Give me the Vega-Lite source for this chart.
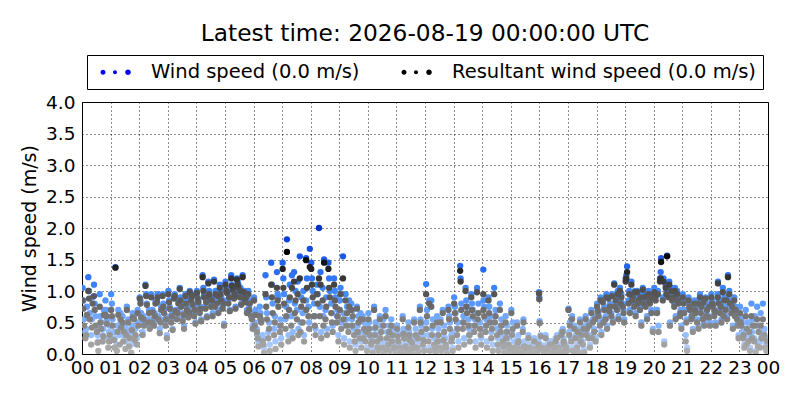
{
  "$schema": "https://vega.github.io/schema/vega-lite/v6.json",
  "width": 686,
  "height": 252,
  "autosize": "none",
  "padding": {"left": 82, "top": 102, "right": 32, "bottom": 46},
  "background": "white",
  "title": {
    "text": "Latest time: 2026-08-19 00:00:00 UTC",
    "font": "DejaVu Sans",
    "fontSize": 23.3,
    "fontWeight": "normal",
    "color": "black",
    "offset": 8
  },
  "config": {
    "view": {"stroke": "black", "strokeWidth": 1},
    "axis": {
      "labelFont": "DejaVu Sans",
      "labelFontSize": 18.5,
      "labelColor": "black",
      "titleFont": "DejaVu Sans",
      "titleFontSize": 19,
      "titleFontWeight": "normal",
      "titleColor": "black",
      "domain": false,
      "ticks": false,
      "grid": true,
      "gridColor": "black",
      "gridDash": [1, 3],
      "gridWidth": 1,
      "gridOpacity": 0.9,
      "labelFlush": false,
      "labelOverlap": false
    },
    "legend": {
      "orient": "none",
      "legendX": 5,
      "legendY": -47,
      "direction": "horizontal",
      "labelFont": "DejaVu Sans",
      "labelFontSize": 19.5,
      "labelColor": "black",
      "labelLimit": 0,
      "labelOffset": 37,
      "columnPadding": 35,
      "padding": 7,
      "strokeColor": "black",
      "fillColor": "white",
      "symbolSize": 400,
      "symbolOpacity": 1,
      "symbolStrokeWidth": 0,
      "symbolType": "M-0.35,0a0.25,0.25 0 1,0 0.5,0a0.25,0.25 0 1,0 -0.5,0ZM0.9,0a0.2,0.2 0 1,0 0.4,0a0.2,0.2 0 1,0 -0.4,0ZM2.12,0a0.28,0.28 0 1,0 0.56,0a0.28,0.28 0 1,0 -0.56,0Z"
    }
  },
  "data": {
    "values": [
      {"h":0.02,"w":1.05,"r":0.85},{"h":0.07,"w":0.55,"r":0.45},{"h":0.12,"w":0.35,"r":0.25},{"h":0.17,"w":0.75,"r":0.62},
      {"h":0.22,"w":1.22,"r":1.0},{"h":0.27,"w":0.65,"r":0.55},{"h":0.32,"w":0.3,"r":0.15},{"h":0.37,"w":0.9,"r":0.8},
      {"h":0.42,"w":1.1,"r":0.92},{"h":0.47,"w":0.6,"r":0.45},{"h":0.52,"w":0.45,"r":0.35},{"h":0.57,"w":0.2,"r":0.05},
      {"h":0.62,"w":0.95,"r":0.75},{"h":0.67,"w":0.5,"r":0.4},{"h":0.72,"w":0.3,"r":0.2},{"h":0.77,"w":0.7,"r":0.62},
      {"h":0.82,"w":0.85,"r":0.62},{"h":0.87,"w":0.55,"r":0.48},{"h":0.92,"w":0.25,"r":0.1},{"h":0.97,"w":0.45,"r":0.3},
      {"h":0.045,"w":0.85,"r":0.72},{"h":0.145,"w":0.4,"r":0.3},{"h":0.245,"w":1.0,"r":0.88},{"h":0.345,"w":0.55,"r":0.42},{"h":0.445,"w":0.8,"r":0.7},
      {"h":0.545,"w":0.3,"r":0.18},{"h":0.645,"w":0.6,"r":0.5},{"h":0.745,"w":0.4,"r":0.28},{"h":0.845,"w":0.7,"r":0.6},{"h":0.945,"w":0.35,"r":0.2},
      {"h":1.02,"w":0.95,"r":0.7},{"h":1.07,"w":0.55,"r":0.45},{"h":1.12,"w":0.35,"r":0.22},{"h":1.17,"w":1.38,"r":1.37},
      {"h":1.22,"w":0.15,"r":0.05},{"h":1.27,"w":0.7,"r":0.62},{"h":1.32,"w":0.3,"r":0.15},{"h":1.37,"w":0.5,"r":0.42},
      {"h":1.42,"w":0.6,"r":0.5},{"h":1.47,"w":0.45,"r":0.35},{"h":1.52,"w":0.2,"r":0.08},{"h":1.57,"w":0.75,"r":0.7},
      {"h":1.62,"w":0.55,"r":0.5},{"h":1.67,"w":0.35,"r":0.25},{"h":1.72,"w":0.15,"r":0.02},{"h":1.77,"w":0.65,"r":0.58},
      {"h":1.82,"w":0.6,"r":0.55},{"h":1.87,"w":0.4,"r":0.3},{"h":1.92,"w":0.25,"r":0.15},{"h":1.97,"w":0.5,"r":0.45},
      {"h":1.045,"w":0.8,"r":0.6},{"h":1.145,"w":0.25,"r":0.1},{"h":1.245,"w":0.45,"r":0.35},{"h":1.345,"w":0.65,"r":0.55},{"h":1.445,"w":0.3,"r":0.2},
      {"h":1.545,"w":0.4,"r":0.3},{"h":1.645,"w":0.25,"r":0.12},{"h":1.745,"w":0.45,"r":0.38},{"h":1.845,"w":0.3,"r":0.22},{"h":1.945,"w":0.7,"r":0.65},
      {"h":2.02,"w":0.9,"r":0.88},{"h":2.07,"w":0.65,"r":0.58},{"h":2.12,"w":0.35,"r":0.3},{"h":2.17,"w":0.5,"r":0.45},
      {"h":2.22,"w":1.1,"r":1.08},{"h":2.27,"w":0.8,"r":0.78},{"h":2.32,"w":0.55,"r":0.5},{"h":2.37,"w":0.45,"r":0.4},
      {"h":2.42,"w":0.95,"r":0.9},{"h":2.47,"w":0.7,"r":0.66},{"h":2.52,"w":0.5,"r":0.45},{"h":2.57,"w":0.85,"r":0.8},
      {"h":2.62,"w":0.85,"r":0.82},{"h":2.67,"w":0.6,"r":0.55},{"h":2.72,"w":0.4,"r":0.33},{"h":2.77,"w":0.75,"r":0.7},
      {"h":2.82,"w":0.95,"r":0.92},{"h":2.87,"w":0.7,"r":0.65},{"h":2.92,"w":0.5,"r":0.45},{"h":2.97,"w":0.3,"r":0.25},
      {"h":2.045,"w":0.85,"r":0.8},{"h":2.145,"w":0.6,"r":0.55},{"h":2.245,"w":0.95,"r":0.92},{"h":2.345,"w":0.7,"r":0.65},{"h":2.445,"w":0.55,"r":0.5},
      {"h":2.545,"w":0.65,"r":0.6},{"h":2.645,"w":0.95,"r":0.9},{"h":2.745,"w":0.55,"r":0.5},{"h":2.845,"w":0.8,"r":0.75},{"h":2.945,"w":0.6,"r":0.55},
      {"h":3.02,"w":1.0,"r":0.95},{"h":3.07,"w":0.75,"r":0.72},{"h":3.12,"w":0.55,"r":0.5},{"h":3.17,"w":0.4,"r":0.38},
      {"h":3.22,"w":0.9,"r":0.88},{"h":3.27,"w":0.7,"r":0.68},{"h":3.32,"w":0.6,"r":0.55},{"h":3.37,"w":0.85,"r":0.8},
      {"h":3.42,"w":1.05,"r":1.03},{"h":3.47,"w":0.8,"r":0.75},{"h":3.52,"w":0.55,"r":0.52},{"h":3.57,"w":0.45,"r":0.4},
      {"h":3.62,"w":0.95,"r":0.92},{"h":3.67,"w":0.75,"r":0.7},{"h":3.72,"w":0.6,"r":0.58},{"h":3.77,"w":1.0,"r":0.98},
      {"h":3.82,"w":0.9,"r":0.85},{"h":3.87,"w":0.8,"r":0.78},{"h":3.92,"w":0.65,"r":0.6},{"h":3.97,"w":0.5,"r":0.48},
      {"h":3.045,"w":0.85,"r":0.82},{"h":3.145,"w":0.65,"r":0.6},{"h":3.245,"w":0.95,"r":0.92},{"h":3.345,"w":0.7,"r":0.65},{"h":3.445,"w":0.9,"r":0.85},
      {"h":3.545,"w":0.65,"r":0.62},{"h":3.645,"w":0.85,"r":0.8},{"h":3.745,"w":0.7,"r":0.66},{"h":3.845,"w":0.95,"r":0.92},{"h":3.945,"w":0.75,"r":0.7},
      {"h":4.02,"w":1.0,"r":0.97},{"h":4.07,"w":0.85,"r":0.82},{"h":4.12,"w":0.7,"r":0.65},{"h":4.17,"w":0.55,"r":0.52},
      {"h":4.22,"w":1.25,"r":1.22},{"h":4.27,"w":0.95,"r":0.9},{"h":4.32,"w":0.75,"r":0.72},{"h":4.37,"w":0.6,"r":0.58},
      {"h":4.42,"w":1.15,"r":1.12},{"h":4.47,"w":0.9,"r":0.88},{"h":4.52,"w":0.8,"r":0.75},{"h":4.57,"w":0.65,"r":0.6},
      {"h":4.62,"w":1.18,"r":1.15},{"h":4.67,"w":1.0,"r":0.95},{"h":4.72,"w":0.85,"r":0.8},{"h":4.77,"w":0.7,"r":0.65},
      {"h":4.82,"w":1.1,"r":1.05},{"h":4.87,"w":0.9,"r":0.85},{"h":4.92,"w":0.75,"r":0.72},{"h":4.97,"w":0.48,"r":0.45},
      {"h":4.045,"w":0.9,"r":0.88},{"h":4.145,"w":0.75,"r":0.72},{"h":4.245,"w":1.05,"r":1.0},{"h":4.345,"w":0.85,"r":0.82},{"h":4.445,"w":1.0,"r":0.95},
      {"h":4.545,"w":0.9,"r":0.85},{"h":4.645,"w":0.8,"r":0.75},{"h":4.745,"w":0.95,"r":0.92},{"h":4.845,"w":1.0,"r":0.95},{"h":4.945,"w":0.85,"r":0.8},
      {"h":5.02,"w":1.15,"r":1.1},{"h":5.07,"w":1.0,"r":0.97},{"h":5.12,"w":0.85,"r":0.8},{"h":5.17,"w":0.7,"r":0.68},
      {"h":5.22,"w":1.25,"r":1.2},{"h":5.27,"w":1.05,"r":1.02},{"h":5.32,"w":0.9,"r":0.88},{"h":5.37,"w":0.75,"r":0.72},
      {"h":5.42,"w":1.2,"r":1.18},{"h":5.47,"w":1.1,"r":1.05},{"h":5.52,"w":0.95,"r":0.9},{"h":5.57,"w":0.8,"r":0.78},
      {"h":5.62,"w":1.25,"r":1.22},{"h":5.67,"w":1.0,"r":0.98},{"h":5.72,"w":0.85,"r":0.82},{"h":5.77,"w":0.7,"r":0.65},
      {"h":5.82,"w":1.0,"r":0.95},{"h":5.87,"w":0.85,"r":0.8},{"h":5.92,"w":0.65,"r":0.6},{"h":5.97,"w":0.45,"r":0.4},
      {"h":5.045,"w":1.05,"r":1.0},{"h":5.145,"w":0.95,"r":0.9},{"h":5.245,"w":1.1,"r":1.08},{"h":5.345,"w":1.0,"r":0.95},{"h":5.445,"w":1.15,"r":1.1},
      {"h":5.545,"w":1.05,"r":1.0},{"h":5.645,"w":0.9,"r":0.88},{"h":5.745,"w":0.95,"r":0.9},{"h":5.845,"w":0.75,"r":0.7},{"h":5.945,"w":0.6,"r":0.55},
      {"h":6.02,"w":0.9,"r":0.85},{"h":6.07,"w":0.7,"r":0.62},{"h":6.12,"w":0.4,"r":0.35},{"h":6.17,"w":0.2,"r":0.12},
      {"h":6.22,"w":0.75,"r":0.6},{"h":6.27,"w":0.55,"r":0.5},{"h":6.32,"w":0.3,"r":0.2},{"h":6.37,"w":0.1,"r":0.02},
      {"h":6.42,"w":1.25,"r":0.95},{"h":6.47,"w":0.65,"r":0.55},{"h":6.52,"w":0.35,"r":0.25},{"h":6.57,"w":0.15,"r":0.05},
      {"h":6.62,"w":1.45,"r":1.1},{"h":6.67,"w":0.8,"r":0.65},{"h":6.72,"w":0.4,"r":0.3},{"h":6.77,"w":0.2,"r":0.08},
      {"h":6.82,"w":1.3,"r":1.05},{"h":6.87,"w":0.9,"r":0.75},{"h":6.92,"w":0.45,"r":0.35},{"h":6.97,"w":0.25,"r":0.15},
      {"h":6.045,"w":0.5,"r":0.45},{"h":6.145,"w":0.3,"r":0.25},{"h":6.245,"w":0.65,"r":0.55},{"h":6.345,"w":0.25,"r":0.15},{"h":6.445,"w":0.9,"r":0.75},
      {"h":6.545,"w":0.5,"r":0.4},{"h":6.645,"w":1.1,"r":0.9},{"h":6.745,"w":0.6,"r":0.5},{"h":6.845,"w":0.95,"r":0.85},{"h":6.945,"w":0.55,"r":0.45},
      {"h":7.02,"w":1.45,"r":1.35},{"h":7.07,"w":0.95,"r":0.8},{"h":7.12,"w":0.55,"r":0.4},{"h":7.17,"w":1.82,"r":1.62},
      {"h":7.22,"w":0.3,"r":0.2},{"h":7.27,"w":1.1,"r":0.9},{"h":7.32,"w":0.6,"r":0.45},{"h":7.37,"w":0.35,"r":0.25},
      {"h":7.42,"w":1.3,"r":1.15},{"h":7.47,"w":1.0,"r":0.85},{"h":7.52,"w":0.7,"r":0.55},{"h":7.57,"w":0.4,"r":0.3},
      {"h":7.62,"w":1.55,"r":1.2},{"h":7.67,"w":0.9,"r":0.75},{"h":7.72,"w":0.65,"r":0.5},{"h":7.77,"w":0.3,"r":0.2},
      {"h":7.84,"w":1.52,"r":1.49},{"h":7.87,"w":1.2,"r":1.05},{"h":7.92,"w":0.75,"r":0.6},{"h":7.97,"w":1.67,"r":1.38},
      {"h":7.045,"w":1.2,"r":1.05},{"h":7.145,"w":0.75,"r":0.6},{"h":7.245,"w":0.85,"r":0.7},{"h":7.345,"w":1.25,"r":1.05},{"h":7.445,"w":0.8,"r":0.65},
      {"h":7.545,"w":1.15,"r":0.95},{"h":7.645,"w":0.5,"r":0.35},{"h":7.745,"w":1.0,"r":0.85},{"h":7.845,"w":0.85,"r":0.7},{"h":7.945,"w":0.5,"r":0.4},
      {"h":8.02,"w":1.45,"r":1.35},{"h":8.07,"w":1.0,"r":0.9},{"h":8.12,"w":0.8,"r":0.6},{"h":8.17,"w":0.4,"r":0.3},
      {"h":8.22,"w":1.1,"r":0.95},{"h":8.29,"w":2.0,"r":1.2},{"h":8.32,"w":0.75,"r":0.6},{"h":8.37,"w":0.35,"r":0.25},
      {"h":8.42,"w":1.05,"r":0.85},{"h":8.47,"w":1.5,"r":1.45},{"h":8.52,"w":0.7,"r":0.55},{"h":8.57,"w":0.4,"r":0.3},
      {"h":8.62,"w":1.45,"r":1.35},{"h":8.67,"w":1.0,"r":0.9},{"h":8.72,"w":0.8,"r":0.65},{"h":8.77,"w":0.45,"r":0.35},
      {"h":8.82,"w":1.2,"r":1.1},{"h":8.87,"w":0.9,"r":0.75},{"h":8.92,"w":0.6,"r":0.5},{"h":8.97,"w":0.3,"r":0.2},
      {"h":8.045,"w":1.2,"r":1.1},{"h":8.145,"w":0.6,"r":0.45},{"h":8.245,"w":0.95,"r":0.8},{"h":8.345,"w":1.3,"r":1.1},{"h":8.445,"w":0.6,"r":0.45},
      {"h":8.545,"w":0.9,"r":0.75},{"h":8.645,"w":1.2,"r":1.05},{"h":8.745,"w":0.65,"r":0.5},{"h":8.845,"w":1.0,"r":0.85},{"h":8.945,"w":0.7,"r":0.6},
      {"h":9.02,"w":0.85,"r":0.7},{"h":9.07,"w":0.5,"r":0.4},{"h":9.13,"w":1.55,"r":1.2},{"h":9.17,"w":0.25,"r":0.15},
      {"h":9.22,"w":0.95,"r":0.85},{"h":9.27,"w":0.75,"r":0.65},{"h":9.32,"w":0.45,"r":0.35},{"h":9.37,"w":0.2,"r":0.1},
      {"h":9.42,"w":0.8,"r":0.7},{"h":9.47,"w":0.7,"r":0.6},{"h":9.52,"w":0.4,"r":0.3},{"h":9.57,"w":0.15,"r":0.05},
      {"h":9.62,"w":0.75,"r":0.72},{"h":9.67,"w":0.6,"r":0.5},{"h":9.72,"w":0.35,"r":0.25},{"h":9.77,"w":0.2,"r":0.1},
      {"h":9.82,"w":0.6,"r":0.55},{"h":9.87,"w":0.5,"r":0.4},{"h":9.92,"w":0.3,"r":0.2},{"h":9.97,"w":0.1,"r":0.05},
      {"h":9.045,"w":1.05,"r":0.95},{"h":9.145,"w":0.65,"r":0.55},{"h":9.245,"w":0.55,"r":0.45},{"h":9.345,"w":0.85,"r":0.75},{"h":9.445,"w":0.55,"r":0.45},
      {"h":9.545,"w":0.3,"r":0.2},{"h":9.645,"w":0.45,"r":0.35},{"h":9.745,"w":0.65,"r":0.55},{"h":9.845,"w":0.35,"r":0.25},{"h":9.945,"w":0.45,"r":0.35},
      {"h":10.02,"w":0.65,"r":0.55},{"h":10.07,"w":0.4,"r":0.3},{"h":10.12,"w":0.25,"r":0.15},{"h":10.17,"w":0.1,"r":0.02},
      {"h":10.22,"w":0.75,"r":0.7},{"h":10.27,"w":0.5,"r":0.42},{"h":10.32,"w":0.3,"r":0.2},{"h":10.37,"w":0.15,"r":0.05},
      {"h":10.42,"w":0.6,"r":0.55},{"h":10.47,"w":0.45,"r":0.35},{"h":10.52,"w":0.2,"r":0.1},{"h":10.57,"w":0.05,"r":0.02},
      {"h":10.62,"w":0.7,"r":0.6},{"h":10.67,"w":0.35,"r":0.25},{"h":10.72,"w":0.25,"r":0.15},{"h":10.77,"w":0.1,"r":0.05},
      {"h":10.82,"w":0.55,"r":0.45},{"h":10.87,"w":0.4,"r":0.3},{"h":10.92,"w":0.2,"r":0.1},{"h":10.97,"w":0.05,"r":0.0},
      {"h":10.045,"w":0.5,"r":0.4},{"h":10.145,"w":0.3,"r":0.2},{"h":10.245,"w":0.4,"r":0.3},{"h":10.345,"w":0.2,"r":0.1},{"h":10.445,"w":0.35,"r":0.25},
      {"h":10.545,"w":0.55,"r":0.45},{"h":10.645,"w":0.15,"r":0.08},{"h":10.745,"w":0.45,"r":0.35},{"h":10.845,"w":0.3,"r":0.2},{"h":10.945,"w":0.15,"r":0.1},
      {"h":11.02,"w":0.45,"r":0.4},{"h":11.07,"w":0.3,"r":0.2},{"h":11.12,"w":0.15,"r":0.1},{"h":11.17,"w":0.05,"r":0.0},
      {"h":11.22,"w":0.6,"r":0.55},{"h":11.27,"w":0.35,"r":0.25},{"h":11.32,"w":0.2,"r":0.12},{"h":11.37,"w":0.08,"r":0.02},
      {"h":11.42,"w":0.5,"r":0.42},{"h":11.47,"w":0.3,"r":0.22},{"h":11.52,"w":0.15,"r":0.08},{"h":11.57,"w":0.05,"r":0.0},
      {"h":11.62,"w":0.55,"r":0.5},{"h":11.67,"w":0.4,"r":0.3},{"h":11.72,"w":0.2,"r":0.1},{"h":11.77,"w":0.1,"r":0.03},
      {"h":11.82,"w":0.75,"r":0.7},{"h":11.87,"w":0.45,"r":0.35},{"h":11.92,"w":0.25,"r":0.15},{"h":11.97,"w":0.1,"r":0.05},
      {"h":11.045,"w":0.35,"r":0.28},{"h":11.145,"w":0.1,"r":0.05},{"h":11.245,"w":0.4,"r":0.32},{"h":11.345,"w":0.15,"r":0.1},{"h":11.445,"w":0.35,"r":0.3},
      {"h":11.545,"w":0.25,"r":0.18},{"h":11.645,"w":0.15,"r":0.1},{"h":11.745,"w":0.3,"r":0.25},{"h":11.845,"w":0.55,"r":0.5},{"h":11.945,"w":0.3,"r":0.22},
      {"h":12.04,"w":1.11,"r":0.95},{"h":12.07,"w":0.7,"r":0.6},{"h":12.12,"w":0.3,"r":0.2},{"h":12.17,"w":0.1,"r":0.05},
      {"h":12.22,"w":0.85,"r":0.75},{"h":12.27,"w":0.55,"r":0.45},{"h":12.32,"w":0.25,"r":0.15},{"h":12.37,"w":0.05,"r":0.02},
      {"h":12.42,"w":0.6,"r":0.5},{"h":12.47,"w":0.4,"r":0.3},{"h":12.52,"w":0.2,"r":0.1},{"h":12.57,"w":0.1,"r":0.05},
      {"h":12.62,"w":0.7,"r":0.65},{"h":12.67,"w":0.45,"r":0.35},{"h":12.72,"w":0.25,"r":0.15},{"h":12.77,"w":0.05,"r":0.0},
      {"h":12.82,"w":0.75,"r":0.7},{"h":12.87,"w":0.5,"r":0.4},{"h":12.92,"w":0.3,"r":0.2},{"h":12.97,"w":0.1,"r":0.05},
      {"h":12.045,"w":0.5,"r":0.4},{"h":12.145,"w":0.85,"r":0.8},{"h":12.245,"w":0.4,"r":0.3},{"h":12.345,"w":0.15,"r":0.1},{"h":12.445,"w":0.3,"r":0.2},
      {"h":12.545,"w":0.55,"r":0.5},{"h":12.645,"w":0.3,"r":0.22},{"h":12.745,"w":0.15,"r":0.1},{"h":12.845,"w":0.6,"r":0.55},{"h":12.945,"w":0.35,"r":0.25},
      {"h":13.02,"w":0.9,"r":0.8},{"h":13.07,"w":0.65,"r":0.55},{"h":13.12,"w":0.4,"r":0.3},{"h":13.17,"w":0.2,"r":0.1},
      {"h":13.23,"w":1.4,"r":1.32},{"h":13.27,"w":0.8,"r":0.7},{"h":13.32,"w":0.5,"r":0.4},{"h":13.37,"w":0.25,"r":0.15},
      {"h":13.42,"w":1.05,"r":1.0},{"h":13.47,"w":0.75,"r":0.65},{"h":13.52,"w":0.55,"r":0.45},{"h":13.57,"w":0.3,"r":0.2},
      {"h":13.62,"w":0.95,"r":0.9},{"h":13.67,"w":0.7,"r":0.6},{"h":13.72,"w":0.45,"r":0.35},{"h":13.77,"w":0.2,"r":0.1},
      {"h":13.82,"w":1.05,"r":0.98},{"h":13.87,"w":0.8,"r":0.65},{"h":13.92,"w":0.5,"r":0.4},{"h":13.97,"w":0.25,"r":0.15},
      {"h":13.045,"w":0.75,"r":0.65},{"h":13.145,"w":0.5,"r":0.4},{"h":13.245,"w":1.2,"r":1.15},{"h":13.345,"w":0.6,"r":0.5},{"h":13.445,"w":0.85,"r":0.75},
      {"h":13.545,"w":0.4,"r":0.3},{"h":13.645,"w":0.8,"r":0.7},{"h":13.745,"w":0.55,"r":0.45},{"h":13.845,"w":0.65,"r":0.55},{"h":13.945,"w":0.4,"r":0.3},
      {"h":14.04,"w":1.34,"r":0.95},{"h":14.07,"w":0.75,"r":0.6},{"h":14.12,"w":0.45,"r":0.35},{"h":14.17,"w":0.2,"r":0.1},
      {"h":14.22,"w":0.9,"r":0.85},{"h":14.27,"w":0.6,"r":0.5},{"h":14.32,"w":0.35,"r":0.25},{"h":14.37,"w":0.15,"r":0.05},
      {"h":14.42,"w":1.05,"r":0.95},{"h":14.47,"w":0.7,"r":0.6},{"h":14.52,"w":0.4,"r":0.3},{"h":14.57,"w":0.1,"r":0.05},
      {"h":14.62,"w":0.8,"r":0.7},{"h":14.67,"w":0.55,"r":0.45},{"h":14.72,"w":0.3,"r":0.2},{"h":14.77,"w":0.1,"r":0.02},
      {"h":14.82,"w":0.6,"r":0.5},{"h":14.87,"w":0.45,"r":0.35},{"h":14.92,"w":0.25,"r":0.15},{"h":14.97,"w":0.05,"r":0.0},
      {"h":14.045,"w":0.85,"r":0.7},{"h":14.145,"w":0.55,"r":0.45},{"h":14.245,"w":0.75,"r":0.65},{"h":14.345,"w":0.5,"r":0.4},{"h":14.445,"w":0.6,"r":0.5},
      {"h":14.545,"w":0.25,"r":0.15},{"h":14.645,"w":0.45,"r":0.35},{"h":14.745,"w":0.2,"r":0.12},{"h":14.845,"w":0.35,"r":0.25},{"h":14.945,"w":0.15,"r":0.08},
      {"h":15.02,"w":0.7,"r":0.65},{"h":15.07,"w":0.5,"r":0.4},{"h":15.12,"w":0.2,"r":0.1},{"h":15.17,"w":0.05,"r":0.02},
      {"h":15.22,"w":0.5,"r":0.45},{"h":15.27,"w":0.3,"r":0.2},{"h":15.32,"w":0.15,"r":0.08},{"h":15.37,"w":0.05,"r":0.0},
      {"h":15.42,"w":0.4,"r":0.35},{"h":15.47,"w":0.2,"r":0.12},{"h":15.52,"w":0.1,"r":0.05},{"h":15.57,"w":0.02,"r":0.0},
      {"h":15.62,"w":0.3,"r":0.25},{"h":15.67,"w":0.15,"r":0.1},{"h":15.72,"w":0.08,"r":0.03},{"h":15.77,"w":0.02,"r":0.0},
      {"h":15.82,"w":0.25,"r":0.2},{"h":15.87,"w":0.12,"r":0.08},{"h":15.92,"w":0.05,"r":0.02},{"h":15.97,"w":0.2,"r":0.15},
      {"h":15.045,"w":0.35,"r":0.3},{"h":15.145,"w":0.1,"r":0.05},{"h":15.245,"w":0.25,"r":0.18},{"h":15.345,"w":0.1,"r":0.05},{"h":15.445,"w":0.55,"r":0.5},
      {"h":15.545,"w":0.15,"r":0.1},{"h":15.645,"w":0.05,"r":0.02},{"h":15.745,"w":0.1,"r":0.06},{"h":15.845,"w":0.05,"r":0.02},{"h":15.945,"w":0.1,"r":0.05},
      {"h":15.99,"w":0.98,"r":0.96},{"h":16.0,"w":0.9,"r":0.87},{"h":16.01,"w":0.52,"r":0.49},{"h":16.07,"w":0.15,"r":0.1},
      {"h":16.22,"w":0.3,"r":0.25},{"h":16.27,"w":0.15,"r":0.1},{"h":16.32,"w":0.05,"r":0.02},{"h":16.37,"w":0.2,"r":0.15},
      {"h":16.42,"w":0.2,"r":0.15},{"h":16.47,"w":0.1,"r":0.05},{"h":16.52,"w":0.02,"r":0.0},{"h":16.57,"w":0.25,"r":0.2},
      {"h":16.62,"w":0.3,"r":0.25},{"h":16.67,"w":0.15,"r":0.1},{"h":16.72,"w":0.05,"r":0.02},{"h":16.77,"w":0.35,"r":0.3},
      {"h":16.82,"w":0.4,"r":0.35},{"h":16.87,"w":0.2,"r":0.15},{"h":16.92,"w":0.08,"r":0.03},{"h":16.97,"w":0.1,"r":0.05},
      {"h":16.045,"w":0.3,"r":0.28},{"h":16.145,"w":0.08,"r":0.04},{"h":16.245,"w":0.12,"r":0.08},{"h":16.345,"w":0.02,"r":0.0},{"h":16.445,"w":0.08,"r":0.04},
      {"h":16.545,"w":0.15,"r":0.1},{"h":16.645,"w":0.05,"r":0.02},{"h":16.745,"w":0.1,"r":0.06},{"h":16.845,"w":0.25,"r":0.2},{"h":16.945,"w":0.15,"r":0.1},
      {"h":17.02,"w":0.72,"r":0.7},{"h":17.07,"w":0.5,"r":0.45},{"h":17.12,"w":0.25,"r":0.2},{"h":17.17,"w":0.1,"r":0.05},
      {"h":17.22,"w":0.45,"r":0.4},{"h":17.27,"w":0.3,"r":0.25},{"h":17.32,"w":0.15,"r":0.1},{"h":17.37,"w":0.05,"r":0.02},
      {"h":17.42,"w":0.55,"r":0.5},{"h":17.47,"w":0.35,"r":0.3},{"h":17.52,"w":0.2,"r":0.15},{"h":17.57,"w":0.08,"r":0.03},
      {"h":17.62,"w":0.6,"r":0.55},{"h":17.67,"w":0.45,"r":0.4},{"h":17.72,"w":0.3,"r":0.25},{"h":17.77,"w":0.15,"r":0.1},
      {"h":17.82,"w":0.7,"r":0.65},{"h":17.87,"w":0.55,"r":0.5},{"h":17.92,"w":0.4,"r":0.35},{"h":17.97,"w":0.25,"r":0.2},
      {"h":17.045,"w":0.35,"r":0.3},{"h":17.145,"w":0.6,"r":0.55},{"h":17.245,"w":0.1,"r":0.05},{"h":17.345,"w":0.4,"r":0.35},{"h":17.445,"w":0.25,"r":0.2},
      {"h":17.545,"w":0.45,"r":0.4},{"h":17.645,"w":0.35,"r":0.3},{"h":17.745,"w":0.5,"r":0.45},{"h":17.845,"w":0.3,"r":0.25},{"h":17.945,"w":0.6,"r":0.55},
      {"h":18.02,"w":0.8,"r":0.75},{"h":18.07,"w":0.65,"r":0.6},{"h":18.12,"w":0.5,"r":0.45},{"h":18.17,"w":0.35,"r":0.3},
      {"h":18.22,"w":0.85,"r":0.82},{"h":18.27,"w":0.75,"r":0.7},{"h":18.32,"w":0.6,"r":0.55},{"h":18.37,"w":0.45,"r":0.4},
      {"h":18.42,"w":0.9,"r":0.88},{"h":18.47,"w":0.8,"r":0.75},{"h":18.52,"w":0.65,"r":0.6},{"h":18.57,"w":0.55,"r":0.5},
      {"h":18.62,"w":1.12,"r":1.1},{"h":18.67,"w":0.9,"r":0.85},{"h":18.72,"w":0.75,"r":0.7},{"h":18.77,"w":0.6,"r":0.55},
      {"h":18.82,"w":1.05,"r":1.0},{"h":18.87,"w":0.95,"r":0.9},{"h":18.92,"w":0.8,"r":0.75},{"h":18.97,"w":0.55,"r":0.5},
      {"h":18.045,"w":0.7,"r":0.68},{"h":18.145,"w":0.9,"r":0.85},{"h":18.245,"w":0.55,"r":0.5},{"h":18.345,"w":0.95,"r":0.9},{"h":18.445,"w":0.7,"r":0.68},
      {"h":18.545,"w":0.95,"r":0.92},{"h":18.645,"w":0.8,"r":0.75},{"h":18.745,"w":1.0,"r":0.95},{"h":18.845,"w":0.85,"r":0.8},{"h":18.945,"w":0.7,"r":0.65},
      {"h":19.02,"w":1.2,"r":1.15},{"h":19.07,"w":1.39,"r":1.3},{"h":19.12,"w":0.85,"r":0.8},{"h":19.17,"w":0.7,"r":0.65},
      {"h":19.22,"w":1.15,"r":1.1},{"h":19.27,"w":0.95,"r":0.9},{"h":19.32,"w":0.8,"r":0.75},{"h":19.37,"w":0.65,"r":0.6},
      {"h":19.42,"w":1.0,"r":0.98},{"h":19.47,"w":0.9,"r":0.85},{"h":19.52,"w":0.75,"r":0.7},{"h":19.57,"w":0.5,"r":0.45},
      {"h":19.62,"w":1.05,"r":1.02},{"h":19.67,"w":0.95,"r":0.9},{"h":19.72,"w":0.8,"r":0.75},{"h":19.77,"w":0.6,"r":0.55},
      {"h":19.82,"w":1.0,"r":0.95},{"h":19.87,"w":0.85,"r":0.8},{"h":19.92,"w":0.7,"r":0.65},{"h":19.97,"w":0.4,"r":0.35},
      {"h":19.045,"w":1.25,"r":1.2},{"h":19.145,"w":1.0,"r":0.95},{"h":19.245,"w":0.9,"r":0.85},{"h":19.345,"w":1.0,"r":0.98},{"h":19.445,"w":0.85,"r":0.8},
      {"h":19.545,"w":0.95,"r":0.9},{"h":19.645,"w":0.85,"r":0.8},{"h":19.745,"w":0.95,"r":0.92},{"h":19.845,"w":0.9,"r":0.85},{"h":19.945,"w":0.95,"r":0.9},
      {"h":20.02,"w":1.05,"r":0.98},{"h":20.07,"w":0.9,"r":0.85},{"h":20.12,"w":0.7,"r":0.65},{"h":20.17,"w":0.45,"r":0.35},
      {"h":20.22,"w":1.2,"r":1.15},{"h":20.26,"w":1.52,"r":1.46},{"h":20.32,"w":0.9,"r":0.85},{"h":20.37,"w":0.2,"r":0.15},
      {"h":20.42,"w":1.1,"r":1.05},{"h":20.47,"w":1.56,"r":1.55},{"h":20.52,"w":0.95,"r":0.9},{"h":20.57,"w":0.5,"r":0.45},
      {"h":20.62,"w":1.05,"r":1.0},{"h":20.67,"w":0.95,"r":0.9},{"h":20.72,"w":0.8,"r":0.75},{"h":20.77,"w":0.6,"r":0.55},
      {"h":20.82,"w":1.0,"r":0.95},{"h":20.87,"w":0.85,"r":0.8},{"h":20.92,"w":0.65,"r":0.6},{"h":20.97,"w":0.45,"r":0.4},
      {"h":20.045,"w":0.95,"r":0.9},{"h":20.145,"w":1.0,"r":0.95},{"h":20.245,"w":1.3,"r":1.2},{"h":20.345,"w":1.2,"r":1.15},{"h":20.445,"w":1.0,"r":0.95},
      {"h":20.545,"w":1.15,"r":1.1},{"h":20.645,"w":0.9,"r":0.85},{"h":20.745,"w":1.05,"r":1.0},{"h":20.845,"w":0.9,"r":0.85},{"h":20.945,"w":0.7,"r":0.65},
      {"h":21.02,"w":0.95,"r":0.9},{"h":21.07,"w":0.7,"r":0.65},{"h":21.12,"w":0.3,"r":0.2},{"h":21.17,"w":0.1,"r":0.05},
      {"h":21.22,"w":0.9,"r":0.85},{"h":21.27,"w":0.75,"r":0.7},{"h":21.32,"w":0.6,"r":0.55},{"h":21.37,"w":0.4,"r":0.35},
      {"h":21.42,"w":0.85,"r":0.8},{"h":21.47,"w":0.7,"r":0.65},{"h":21.52,"w":0.55,"r":0.5},{"h":21.57,"w":0.45,"r":0.4},
      {"h":21.62,"w":0.95,"r":0.9},{"h":21.67,"w":0.8,"r":0.75},{"h":21.72,"w":0.6,"r":0.55},{"h":21.77,"w":0.5,"r":0.45},
      {"h":21.82,"w":0.9,"r":0.88},{"h":21.87,"w":0.75,"r":0.7},{"h":21.92,"w":0.6,"r":0.58},{"h":21.97,"w":0.5,"r":0.45},
      {"h":21.045,"w":0.85,"r":0.8},{"h":21.145,"w":0.55,"r":0.5},{"h":21.245,"w":0.8,"r":0.75},{"h":21.345,"w":0.65,"r":0.6},{"h":21.445,"w":0.75,"r":0.7},
      {"h":21.545,"w":0.85,"r":0.8},{"h":21.645,"w":0.7,"r":0.65},{"h":21.745,"w":0.85,"r":0.82},{"h":21.845,"w":0.65,"r":0.6},{"h":21.945,"w":0.8,"r":0.75},
      {"h":22.02,"w":0.95,"r":0.9},{"h":22.07,"w":0.8,"r":0.75},{"h":22.12,"w":0.65,"r":0.6},{"h":22.17,"w":0.5,"r":0.45},
      {"h":22.25,"w":1.15,"r":1.12},{"h":22.27,"w":0.85,"r":0.8},{"h":22.32,"w":0.7,"r":0.65},{"h":22.37,"w":0.55,"r":0.5},
      {"h":22.42,"w":1.05,"r":0.98},{"h":22.47,"w":0.9,"r":0.85},{"h":22.52,"w":0.75,"r":0.7},{"h":22.57,"w":0.6,"r":0.55},
      {"h":22.6,"w":1.25,"r":1.22},{"h":22.67,"w":0.85,"r":0.8},{"h":22.72,"w":0.7,"r":0.65},{"h":22.77,"w":0.45,"r":0.4},
      {"h":22.82,"w":0.9,"r":0.85},{"h":22.87,"w":0.75,"r":0.7},{"h":22.92,"w":0.6,"r":0.55},{"h":22.97,"w":0.3,"r":0.25},
      {"h":22.045,"w":0.85,"r":0.8},{"h":22.145,"w":0.7,"r":0.68},{"h":22.245,"w":0.95,"r":0.9},{"h":22.345,"w":0.8,"r":0.75},{"h":22.445,"w":0.65,"r":0.6},
      {"h":22.545,"w":0.9,"r":0.85},{"h":22.645,"w":1.0,"r":0.95},{"h":22.745,"w":0.8,"r":0.75},{"h":22.845,"w":0.65,"r":0.6},{"h":22.945,"w":0.5,"r":0.45},
      {"h":23.02,"w":0.75,"r":0.65},{"h":23.07,"w":0.55,"r":0.45},{"h":23.12,"w":0.35,"r":0.25},{"h":23.17,"w":0.15,"r":0.1},
      {"h":23.22,"w":0.7,"r":0.6},{"h":23.27,"w":0.5,"r":0.4},{"h":23.32,"w":0.3,"r":0.2},{"h":23.37,"w":0.1,"r":0.05},
      {"h":23.42,"w":0.8,"r":0.6},{"h":23.47,"w":0.55,"r":0.45},{"h":23.52,"w":0.25,"r":0.2},{"h":23.57,"w":0.05,"r":0.02},
      {"h":23.62,"w":0.75,"r":0.55},{"h":23.67,"w":0.45,"r":0.35},{"h":23.72,"w":0.2,"r":0.1},{"h":23.77,"w":0.3,"r":0.25},
      {"h":23.82,"w":0.8,"r":0.55},{"h":23.87,"w":0.4,"r":0.3},{"h":23.92,"w":0.15,"r":0.1},{"h":23.97,"w":0.25,"r":0.2},
      {"h":23.045,"w":0.6,"r":0.5},{"h":23.145,"w":0.4,"r":0.3},{"h":23.245,"w":0.25,"r":0.15},{"h":23.345,"w":0.5,"r":0.35},{"h":23.445,"w":0.35,"r":0.25},
      {"h":23.545,"w":0.6,"r":0.45},{"h":23.645,"w":0.2,"r":0.12},{"h":23.745,"w":0.65,"r":0.45},{"h":23.845,"w":0.35,"r":0.25},{"h":23.945,"w":0.1,"r":0.05}
    ]
  },
  "layer": [
    {
      "mark": {"type": "circle", "size": 40, "opacity": 1, "clip": true},
      "encoding": {
        "x": {
          "field": "h",
          "type": "quantitative",
          "scale": {"domain": [0, 24], "nice": false},
          "axis": {
            "title": null,
            "values": [0,1,2,3,4,5,6,7,8,9,10,11,12,13,14,15,16,17,18,19,20,21,22,23,24],
            "labelExpr": "(datum.value % 24) < 10 ? '0' + (datum.value % 24) : '' + (datum.value % 24)",
            "labelPadding": 4
          }
        },
        "y": {
          "field": "w",
          "type": "quantitative",
          "title": "Wind speed (m/s)",
          "scale": {"domain": [0, 4], "nice": false},
          "axis": {
            "title": "Wind speed (m/s)",
            "values": [0, 0.5, 1, 1.5, 2, 2.5, 3, 3.5, 4],
            "format": ".1f",
            "labelPadding": 7,
            "titlePadding": 6
          }
        },
        "color": {
          "field": "w",
          "type": "quantitative",
          "scale": {"domain": [0, 1, 2], "range": ["#bcd6ff", "#3f88ff", "#0030d0"], "interpolate": "rgb", "clamp": true},
          "legend": null
        }
      }
    },
    {
      "mark": {"type": "circle", "size": 40, "opacity": 1, "clip": true},
      "encoding": {
        "x": {
          "field": "h",
          "type": "quantitative",
          "scale": {"domain": [0, 24], "nice": false},
          "axis": {
            "title": null,
            "values": [0,1,2,3,4,5,6,7,8,9,10,11,12,13,14,15,16,17,18,19,20,21,22,23,24],
            "labelExpr": "(datum.value % 24) < 10 ? '0' + (datum.value % 24) : '' + (datum.value % 24)",
            "labelPadding": 4
          }
        },
        "y": {
          "field": "r",
          "type": "quantitative",
          "title": "Wind speed (m/s)",
          "scale": {"domain": [0, 4], "nice": false},
          "axis": {
            "title": "Wind speed (m/s)",
            "values": [0, 0.5, 1, 1.5, 2, 2.5, 3, 3.5, 4],
            "format": ".1f",
            "labelPadding": 7,
            "titlePadding": 6
          }
        },
        "color": {
          "field": "r",
          "type": "quantitative",
          "scale": {"domain": [0, 1, 1.6], "range": ["#b2b2b2", "#505050", "#000000"], "interpolate": "rgb", "clamp": true},
          "legend": null
        }
      }
    },
    {
      "data": {
        "values": [
          {"s": "Wind speed (0.0 m/s)"},
          {"s": "Resultant wind speed (0.0 m/s)"}
        ]
      },
      "mark": {"type": "circle", "opacity": 0},
      "encoding": {
        "x": {
          "datum": 0,
          "type": "quantitative",
          "scale": {"domain": [0, 24], "nice": false},
          "axis": {
            "title": null,
            "values": [0,1,2,3,4,5,6,7,8,9,10,11,12,13,14,15,16,17,18,19,20,21,22,23,24],
            "labelExpr": "(datum.value % 24) < 10 ? '0' + (datum.value % 24) : '' + (datum.value % 24)",
            "labelPadding": 4
          }
        },
        "y": {
          "datum": 0,
          "type": "quantitative",
          "title": "Wind speed (m/s)",
          "scale": {"domain": [0, 4], "nice": false},
          "axis": {
            "title": "Wind speed (m/s)",
            "values": [0, 0.5, 1, 1.5, 2, 2.5, 3, 3.5, 4],
            "format": ".1f",
            "labelPadding": 7,
            "titlePadding": 6
          }
        },
        "color": {
          "field": "s",
          "type": "nominal",
          "scale": {"domain": ["Wind speed (0.0 m/s)", "Resultant wind speed (0.0 m/s)"], "range": ["#0000ff", "#000000"]},
          "legend": {"title": null}
        }
      }
    }
  ],
  "resolve": {"scale": {"color": "independent"}}
}
